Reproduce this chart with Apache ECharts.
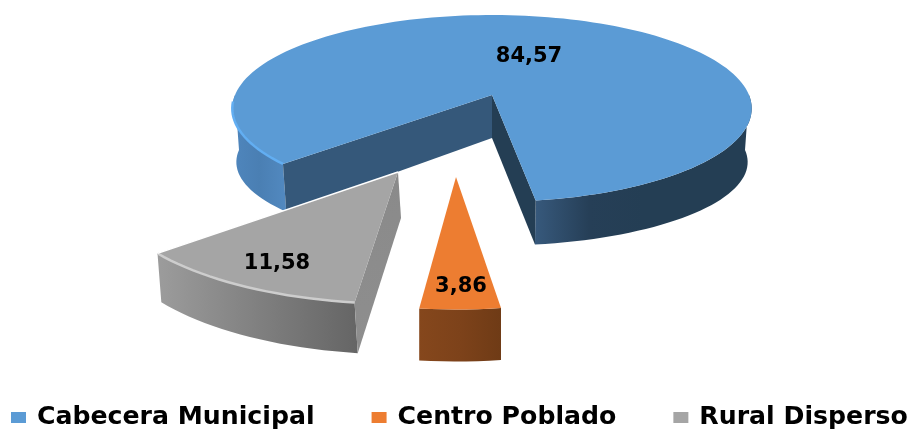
<!DOCTYPE html>
<html>
<head>
<meta charset="utf-8">
<style>html,body{margin:0;padding:0;background:#fff}#c{width:913px;height:431px}</style>
<script src="https://cdn.jsdelivr.net/npm/echarts@6/dist/echarts.min.js"></script>
</head>
<body>
<div id="c"></div>
<script>
const categories = ['Cabecera Municipal', 'Centro Poblado', 'Rural Disperso'];
const values = [84.57, 3.86, 11.58];
const valueLabels = ['84,57', '3,86', '11,58'];
const colors = ['#5b9bd5', '#ed7d31', '#a5a5a5'];

const FONT = '"DejaVu Sans"';
const LG = (x, stops) => new echarts.graphic.LinearGradient(x[0], x[1], x[2], x[3],
  stops.map((c, i) => ({offset: i / (stops.length - 1), color: c})));

/* Drawing geometry of each exploded 3D slice (perspective-projected disc) */
const layout = [
  { start: 137.2, top: [492, 95], bot: [492, 138], botC: [492, 150], a: 257, b: 91.5, p: 0.144, ba: 253, bb: 82,
    label: [529, 57],
    walls: [
      {from: 137.2, to: 180, fill: () => LG([0,0,1,0], ['#4f86bd', '#4a7fb3', '#5289c0'])},
      {from: 0, to: null, fill: () => LG([0,0,1,0], ['#37597c', '#263f57', '#243e54', '#243e54', '#243e54'])}
    ],
    faces: [
      {end: 'start', fill: '#35587a'},
      {end: 'end', fill: '#243e54'}
    ],
    rim: {from: 137.2, to: 176, color: '#62aef2'} },
  { start: 82.35, top: [456, 177], bot: [456, 234], botC: [456, 234], a: 271, b: 106, p: 0.2, ba: 271, bb: 102,
    label: [461, 287],
    walls: [{from: null, to: null, fill: () => LG([0,0,1,0], ['#85471c', '#7d421a', '#6f3b16'])}],
    faces: [] },
  { start: 97.4, top: [398, 172], bot: [401, 218], botC: [401, 218], a: 287, b: 112, p: 0.15, ba: 286, bb: 116,
    label: [277, 264],
    walls: [{from: null, to: null, fill: () => LG([0,0,1,0], ['#9c9c9c', '#808080', '#656565'])}],
    faces: [{end: 'start', fill: () => LG([0,0,0,1], ['#8a8a8a', '#8e8e8e'])}],
    rim: {from: 97.4, to: 139, color: '#cdcdcd'},
    edge: true }
];

const total = values.reduce((s, v) => s + v, 0);

function proj(o, a, b, p, deg) {
  const r = deg * Math.PI / 180, u = Math.cos(r), v = Math.sin(r), s = 1 / (1 - p * v);
  return [o[0] + a * u * s, o[1] + b * v * s];
}
function arc(o, a, b, p, from, to) {
  const pts = [], n = Math.max(2, Math.ceil(Math.abs(to - from) / 2));
  for (let i = 0; i <= n; i++) pts.push(proj(o, a, b, p, from + (to - from) * i / n));
  return pts;
}

function renderSlice(idx) {
  return function () {
    const L = layout[idx];
    const sweep = values[idx] / total * 360;
    const from = L.start, to = L.start + sweep;
    const kids = [];
    const T = (d) => proj(L.top, L.a, L.b, L.p, d);
    const B = (d) => proj(L.botC, L.ba, L.bb, L.p, d);

    // outer walls
    L.walls.forEach(w => {
      const f = w.from === null ? from : w.from;
      const t = w.to === null ? (w.from === null ? to : to % 360) : w.to;
      const pts = arc(L.top, L.a, L.b, L.p, f, t)
        .concat(arc(L.botC, L.ba, L.bb, L.p, t, f));
      kids.push({type: 'polygon', shape: {points: pts}, style: {fill: w.fill()}, silent: true});
    });
    // cut faces
    L.faces.forEach(fc => {
      const d = fc.end === 'start' ? from : to;
      const pts = [L.top, T(d), B(d), L.bot];
      kids.push({type: 'polygon', shape: {points: pts},
        style: {fill: typeof fc.fill === 'function' ? fc.fill() : fc.fill}, silent: true});
    });
    // top surface
    const topPts = [L.top].concat(arc(L.top, L.a, L.b, L.p, from, to));
    kids.push({type: 'polygon', shape: {points: topPts}, style: {fill: colors[idx]}, silent: true});
    // bevel highlight
    if (L.rim) {
      kids.push({type: 'polyline',
        shape: {points: arc(L.top, L.a, L.b, L.p, L.rim.from, Math.min(L.rim.to, to))},
        style: {stroke: L.rim.color, lineWidth: 2.5, fill: 'none'}, silent: true});
    }
    if (L.edge) {
      kids.push({type: 'polyline', shape: {points: [T(to), L.top]},
        style: {stroke: '#ffffff', lineWidth: 1.5, fill: 'none'}, silent: true});
    }
    // value label
    kids.push({type: 'text', x: L.label[0], y: L.label[1],
      style: {text: valueLabels[idx], fill: '#000', align: 'center', verticalAlign: 'middle',
              font: 'bold 21px ' + FONT}, silent: true});
    return {type: 'group', children: kids};
  };
}

const chart = echarts.init(document.getElementById('c'), null, {renderer: 'canvas'});
chart.setOption({
  animation: false,
  backgroundColor: '#fff',
  legend: {
    data: categories,
    left: 11, top: 405,
    width: 1400,
    padding: 0,
    icon: 'rect',
    itemWidth: 15, itemHeight: 11,
    itemGap: 57,
    textStyle: {fontFamily: FONT, fontWeight: 'bold', fontSize: 25.2, color: '#000', padding: [0,0,0,6]},
    selectedMode: false
  },
  series: categories.map((name, i) => ({
    type: 'custom',
    name,
    coordinateSystem: 'none',
    itemStyle: {color: colors[i]},
    data: [values[i]],
    renderItem: renderSlice(i)
  }))
});
</script>
</body>
</html>
